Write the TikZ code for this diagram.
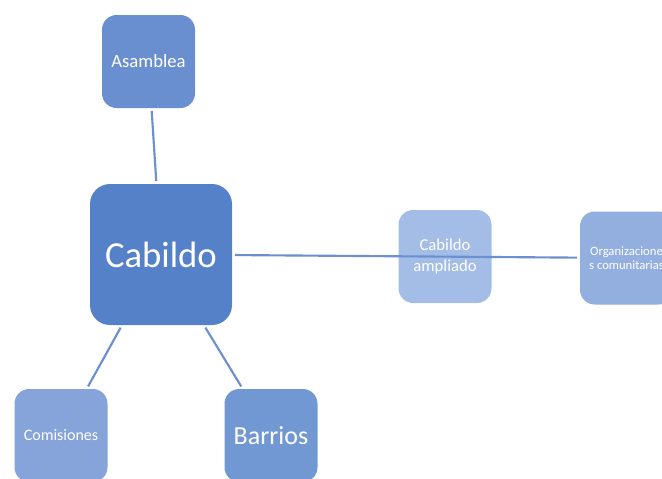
\documentclass[tikz,border=0pt]{standalone}
\usepackage{fontspec}
\setmainfont{Carlito}
\definecolor{asamc}{HTML}{6A8FD0}
\definecolor{cabc}{HTML}{5581C9}
\definecolor{ampc}{HTML}{A4BDE6}
\definecolor{orgc}{HTML}{93AFE0}
\definecolor{comc}{HTML}{86A4DA}
\definecolor{barc}{HTML}{7298D4}
\definecolor{linkc}{HTML}{6B8FD1}
\begin{document}
\begin{tikzpicture}[
        x=0.75pt, y=-0.75pt,
        box/.style={rectangle, rounded corners=11pt, minimum width=69.75pt, minimum height=69.75pt, align=center, text=white, inner sep=1pt},
        link/.style={draw=linkc, line width=1.6pt, shorten <=2pt, shorten >=2pt}
    ]
    \clip (0,0) rectangle (662,479);

    % Centre
    \node[box, fill=cabc, minimum width=106.5pt, minimum height=105.75pt, rounded corners=15pt, font=\fontsize{27.5}{30}\selectfont] (cabildo) at (161,254.5) {Cabildo};

    % Around it
    \node[box, fill=asamc, font=\fontsize{14}{16}\selectfont] (asamblea) at (148.5,61.5) {Asamblea};
    \node[box, fill=comc, font=\fontsize{12}{14}\selectfont] (comisiones) at (61,435.5) {Comisiones};
    \node[box, fill=barc, font=\fontsize{19.5}{22}\selectfont] (barrios) at (271,435.5) {Barrios};
    \node[box, fill=ampc, font=\fontsize{12.5}{16}\selectfont] (ampliado) at (445,256.5) {Cabildo\\ampliado};
    \node[box, fill=orgc, font=\fontsize{9.5}{10.5}\selectfont] (organiz) at (626.5,258) {Organizacione\\s comunitarias};

    % Lines
    \draw[link] (asamblea) -- (cabildo);
    \draw[link] (cabildo) -- (comisiones);
    \draw[link] (cabildo) -- (barrios);
    \draw[link] (cabildo) -- (organiz);

\end{tikzpicture}
\end{document}
